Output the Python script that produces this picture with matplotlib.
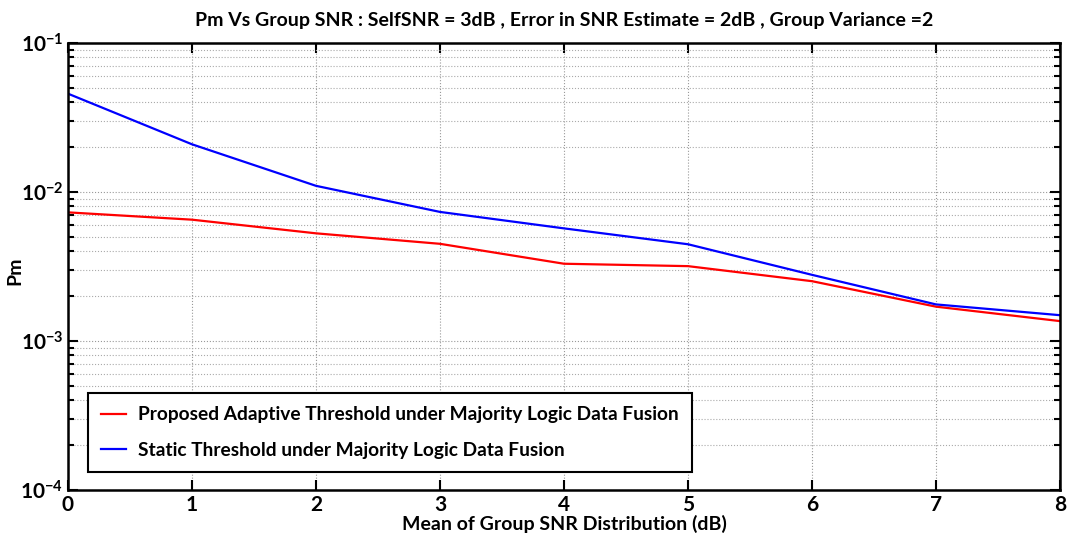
import matplotlib
matplotlib.use('Agg')
import matplotlib.pyplot as plt
from matplotlib.ticker import LogLocator, FixedLocator

plt.rcParams['font.family'] = ['Lato', 'DejaVu Sans']
plt.rcParams['font.weight'] = 'bold'

snr = [0, 1, 2, 3, 4, 5, 6, 7, 8]
pm_adaptive = [0.00730, 0.00652, 0.00528, 0.00449, 0.00330, 0.00318, 0.00252, 0.00170, 0.00136]
pm_static = [0.0457, 0.0209, 0.0110, 0.00735, 0.00570, 0.00446, 0.00278, 0.00176, 0.00149]
labels = ['Proposed Adaptive Threshold under Majority Logic Data Fusion',
          'Static Threshold under Majority Logic Data Fusion']

fig = plt.figure(figsize=(10.68, 5.37), dpi=100)
ax = fig.add_axes([68 / 1068, 1 - 490 / 537, 992 / 1068, 447 / 537])

ax.plot(snr, pm_adaptive, color='#ff0000', lw=1.6, label=labels[0])
ax.plot(snr, pm_static, color='#0000ff', lw=1.6, label=labels[1])

ax.set_yscale('log')
ax.set_xlim(0, 8)
ax.set_ylim(1e-4, 1e-1)
ax.xaxis.set_major_locator(FixedLocator(snr))
ax.yaxis.set_major_locator(LogLocator(base=10, numticks=10))
ax.yaxis.set_minor_locator(LogLocator(base=10, subs=range(2, 10), numticks=20))

ax.grid(True, which='major', color='#999999', linestyle=':', lw=0.8)
ax.grid(True, which='minor', axis='y', color='#aaaaaa', linestyle=':', lw=0.8)
ax.tick_params(which='both', direction='in', top=True, right=True, width=1.5, labelsize=15)
ax.tick_params(which='major', length=7)
ax.tick_params(which='minor', length=4)
for s in ax.spines.values():
    s.set_linewidth(1.8)
for t in ax.get_xticklabels() + ax.get_yticklabels():
    t.set_fontweight('bold')

ax.set_xlabel('Mean of Group SNR Distribution (dB)', fontsize=14, fontweight='bold', labelpad=0)
ax.set_ylabel('Pm', fontsize=14, fontweight='bold')
ax.yaxis.set_label_coords(-0.045, 0.49)
ax.set_title('Pm Vs Group SNR : SelfSNR = 3dB , Error in SNR Estimate = 2dB , Group Variance =2',
             fontsize=14, fontweight='bold', pad=12)

leg = ax.legend(loc='lower left', bbox_to_anchor=(0.02, 0.04), borderaxespad=0, fontsize=13.8,
                frameon=True, fancybox=False, edgecolor='black', framealpha=1,
                handlelength=1.3, handletextpad=0.6, borderpad=0.7, labelspacing=0.95)
leg.get_frame().set_linewidth(1.5)

fig.savefig('out.png', dpi=100)
